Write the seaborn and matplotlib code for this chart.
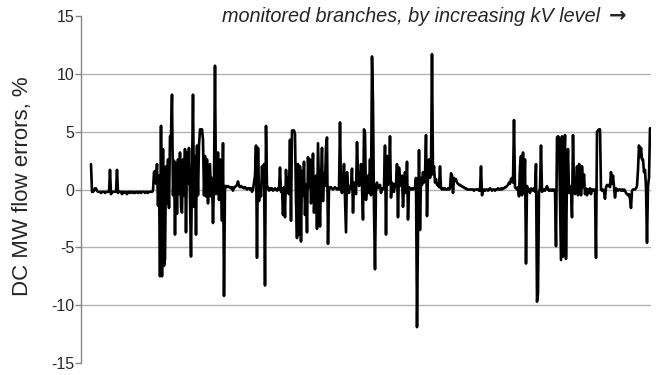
import numpy as np
import pandas as pd
import matplotlib
matplotlib.use("Agg")
import matplotlib.pyplot as plt
import seaborn as sns

# DC MW flow errors (%) for each monitored branch, ordered by increasing kV level
errors_group1 = [
    2.2, -0.2, -0.2, -0.1, 0.1, 0.1, -0.1, -0.2, -0.2, -0.2,
    -0.3, -0.2, -0.2, -0.2, -0.3, -0.2, -0.2, -0.2, -0.2, 1.7,
    -0.4, -0.2, -0.2, -0.2, -0.2, -0.2, 1.7, -0.3, -0.2, -0.2,
    -0.2, -0.4, -0.2, -0.2, -0.3, -0.2, -0.4, -0.2, -0.2, -0.3,
    -0.2, -0.2, -0.3, -0.2, -0.3, -0.2, -0.2, -0.3, -0.2, -0.2,
    -0.3, -0.2, -0.2, -0.2, -0.3, -0.2, -0.2, -0.3, -0.2, -0.2,
    -0.2, -0.2, -0.1,
]
errors_group2 = [
    1.5, 1.6, 0.5, 2.2, -1.4, 1.2, -7.5, 5.5, -7.5, 3.5,
    -6.6, -6.0, 2.0, -1.2, 2.6, -1.6, 4.6, 4.7, 8.2, -0.5,
    2.5, -3.9, 2.3, -2.1, 2.6, -0.4, 3.2, -1.5, -2.0, 2.6,
    -0.5, 3.5, -3.7, 3.2, 0.5, 3.6, -0.8, -5.8, 1.0, 8.2,
    -1.5, 2.9, -3.9, 3.8, -0.5, 3.8, 5.2, 5.2, 5.2, 4.3,
    -0.5, 2.9, -0.6, 2.6, -1.2, 2.0, 2.2, -0.6, 1.0, -2.9,
    0.8, 10.7, -0.4, 0.6, 3.2, -0.9, 2.6, 0.5, -2.7, 4.0,
    -9.2,
]
errors_group3 = [
    0.3, 0.3, 0.2, 0.3, 0.2, 0.2, 0.1, 0.2, -0.1, 0.2,
    0.2, 0.3, 0.4, 0.7, 0.3, 0.2, 0.3, 0.2, 0.2, 0.1,
    0.2, 0.1, 0.0, 0.1, 0.1, 0.0, 0.1, -0.2, 0.0, 0.6,
    1.2, 3.8, -5.9, 3.6, -1.0, 0.2, -0.6, 2.0, 0.5, 2.2,
    -8.3, 5.5, 0.1, 0.2, -0.1, 0.1, 0.0, 0.1, -0.1, 0.0,
    0.1, 0.0, -0.1, 0.1, 0.0, 1.9, -0.2, 0.1, -2.2, 0.2,
    -2.4, 1.7, -0.3, 1.0, -0.4, 4.3, -2.7, 5.1, 5.1, 5.1,
    4.8, -1.0, -4.2, 2.2, -3.9, 2.0, -4.5, 1.6, -0.5, 2.4,
    -2.2, 0.4, -3.7, 2.8, 0.2, 2.6, -1.2, 0.5, 3.1, -2.0,
    0.3, 1.2, -3.4, 4.0, 0.4, -3.2, 0.8, 3.6, -1.0, 1.4,
    0.3, 3.7, 4.5, -4.7, 0.2, 0.1, 0.2, 0.1, 0.0, 0.1,
    0.2, 0.1, 0.0, 0.1, 0.0,
]
errors_group4 = [
    5.8, 0.0, -0.3, 0.4, 2.2, -0.6, -3.7, 1.5, 0.2, -0.3,
    0.3, 0.1, 1.8, -2.0, 0.6, 0.2, -0.4, 4.1, 1.2, 0.3,
    0.5, 2.2, 0.3, -2.6, 5.2, 4.9, -0.9, 0.4, 1.2, -0.3,
    2.6, -0.5, 11.5, 7.5, -1.7, -6.9, 0.3, 0.6, 0.1, 0.2,
    0.4, -0.3, 0.1, 0.0, 0.2, 3.8, -3.9, 2.9, 0.4, 0.8,
    4.6, -0.7, 0.6, 0.2, -0.2, 0.5, 0.3, 2.2, -2.4, 1.9,
    0.8, 0.3, 1.2, -1.5, 0.2, 1.5, -0.3, 2.4, -2.6, 0.2,
    0.1, 0.0, 0.1, 0.0, 0.1, 0.2, 1.0, -11.9, -3.7, 3.4,
    -3.5, 1.0, 0.4, 1.5, 0.6, 1.2, 4.7, -2.3, 1.5, 2.6,
    1.0, 1.5, 11.7, 1.3, 2.0, 0.6, 0.9, 0.4, 0.5, 0.2,
    2.0, 0.1, 0.0, 0.1, 0.0, 0.1, 0.0, 0.0, 0.1, 0.0,
    0.1,
]
errors_group5 = [
    1.4, 1.2, -0.3, 1.0, 0.8, 0.9, 0.6, 0.5, 0.4, 0.4,
    0.3, 0.3, 0.2, 0.2, 0.1, 0.1, 0.0, 0.0, 0.0, 0.0,
    0.0, 0.0, 0.0, -0.1, 0.0, 0.0, 0.0, 0.0, -0.1, -0.1,
    2.0, -0.5, -0.1, 0.0, -0.1, 0.0, 0.0, -0.1, 0.0, 0.1,
    0.0, -0.1, 0.0, 0.0, -0.1, 0.0, 0.0, 0.1, 0.0, 0.0,
    0.1, 0.0, 0.1, 0.1, 0.2, 0.2, 0.3, 0.4, 0.6, 0.5,
    0.9, 1.0, 0.6, 6.0, 0.2, 0.1, 0.0, 0.2, -0.6, 2.0,
    2.9, -0.5, 3.2, -0.3, 2.6, -6.4, 0.3, -0.1, 0.0, -0.3,
    0.1, 0.0, -0.1, 0.1, -0.2, 2.2, -9.7, -9.0, -0.2, 0.1,
    3.8, -0.2, -0.1, 0.0, -0.1, 0.1, 0.3, 0.0, -0.1, 0.0,
    -0.1, 0.0, -0.1, 0.0, -0.1,
]
errors_group6 = [
    -4.9, 4.5, 4.6, 4.5, -0.6, -6.1, 4.6, -5.8, 1.5, 4.7,
    -6.0, 1.3, 3.5, -0.3, 0.3, 0.1, -2.4, 4.7, 0.2, -0.4,
    0.3, 2.0, -0.5, 2.2, 2.1, -0.5, 2.0, 0.2, 1.3, -0.4,
    0.1, -0.5, 0.0, -0.3, 0.1, -0.4, 0.0, 0.0, -0.1, 0.0,
    -5.9, 5.0, 5.1, 5.2, 5.2, 0.0, -0.1, 0.0, -0.2, -0.8,
    0.2, 0.4, 0.3, 0.4, 0.2, 1.5, 0.5, 1.2, 0.3, -0.7,
    0.1, 0.0, -0.1, 0.0, 0.0, -0.1, 0.0, -0.1, 0.0, -0.1,
    -0.3, -0.4, -0.5, -0.4, -0.8, -1.6, -0.1, 0.0, 0.0, 0.0,
    0.1, 0.3, 1.7, 3.8, 2.8, 3.6, 2.6, 2.6, 1.5, 1.7,
    0.2, -4.6, 0.3, 1.0, 5.3,
]

y_ticks = [-15, -10, -5, 0, 5, 10, 15]
grid_levels = [-10, -5, 0, 5, 10]
y_label = "DC MW flow errors, %"
header = "monitored branches, by increasing kV level"
header_arrow = "\u2192"

errors = (errors_group1 + errors_group2 + errors_group3
          + errors_group4 + errors_group5 + errors_group6)
df = pd.DataFrame({"branch": np.arange(len(errors)), "error": errors})

sns.set_style("white")
plt.rcParams["font.family"] = ["Liberation Sans", "DejaVu Sans"]

W, H = 657, 375
fig = plt.figure(figsize=(W / 100, H / 100), dpi=100)
ax = fig.add_axes([81 / W, 1 - 363 / H, (651 - 81) / W, (363 - 16) / H])

for lvl in grid_levels:
    ax.axhline(lvl, color="#b3b3b3", lw=1.0, zorder=1)

sns.lineplot(data=df, x="branch", y="error", ax=ax, color="black",
             lw=1.9, sort=False, zorder=3)

ax.set_xlim(-10, 560)
ax.set_ylim(-15, 15)
ax.set_yticks(y_ticks)
ax.set_yticklabels([str(t) for t in y_ticks], fontsize=11.5)
ax.set_xticks([])
ax.set_xlabel("")
ax.set_ylabel("")

for side in ["top", "right", "bottom"]:
    ax.spines[side].set_visible(False)
ax.spines["left"].set_color("#868686")
ax.spines["left"].set_linewidth(1.0)
ax.tick_params(axis="y", direction="out", length=4, width=1.0,
               color="#868686", pad=1, left=True)

fig.text(23 / W, 1 - 186 / H, y_label, rotation=90, fontsize=16,
         ha="center", va="center")
fig.text(222 / W, 1 - 16 / H, header, fontsize=14.3, style="italic",
         ha="left", va="center")
fig.text(609 / W, 1 - 16 / H, header_arrow, fontsize=15, fontweight="bold",
         family=["DejaVu Sans"], ha="left", va="center")

fig.savefig("out.png", dpi=100)
